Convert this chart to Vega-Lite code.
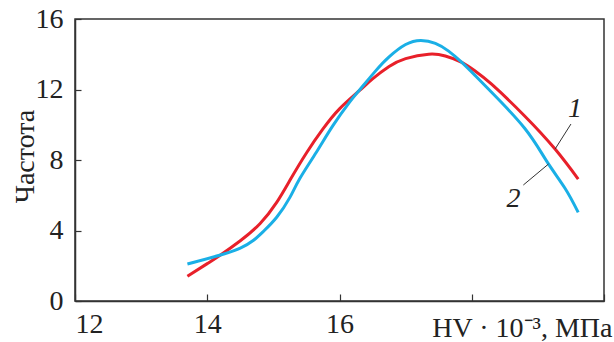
{
  "$schema": "https://vega.github.io/schema/vega-lite/v6.json",
  "width": 529,
  "height": 282,
  "autosize": {"type": "none"},
  "padding": {"left": 75, "top": 19, "right": 10, "bottom": 41},
  "background": "white",
  "config": {
    "view": {"stroke": "#333", "strokeWidth": 1.5},
    "font": "Liberation Serif"
  },
  "datasets": {
    "curves": [
      {"hv": 13.70, "freq": 1.40, "curve": "1"},
      {"hv": 14.00, "freq": 2.12, "curve": "1"},
      {"hv": 14.20, "freq": 2.61, "curve": "1"},
      {"hv": 14.50, "freq": 3.42, "curve": "1"},
      {"hv": 14.80, "freq": 4.40, "curve": "1"},
      {"hv": 15.05, "freq": 5.60, "curve": "1"},
      {"hv": 15.25, "freq": 6.85, "curve": "1"},
      {"hv": 15.50, "freq": 8.40, "curve": "1"},
      {"hv": 15.75, "freq": 9.76, "curve": "1"},
      {"hv": 16.00, "freq": 10.90, "curve": "1"},
      {"hv": 16.30, "freq": 11.93, "curve": "1"},
      {"hv": 16.50, "freq": 12.60, "curve": "1"},
      {"hv": 16.75, "freq": 13.30, "curve": "1"},
      {"hv": 17.00, "freq": 13.75, "curve": "1"},
      {"hv": 17.35, "freq": 14.00, "curve": "1"},
      {"hv": 17.60, "freq": 13.90, "curve": "1"},
      {"hv": 17.85, "freq": 13.54, "curve": "1"},
      {"hv": 18.05, "freq": 13.05, "curve": "1"},
      {"hv": 18.30, "freq": 12.30, "curve": "1"},
      {"hv": 18.80, "freq": 10.50, "curve": "1"},
      {"hv": 19.26, "freq": 8.62, "curve": "1"},
      {"hv": 19.61, "freq": 6.92, "curve": "1"},
      {"hv": 13.70, "freq": 2.10, "curve": "2"},
      {"hv": 14.20, "freq": 2.61, "curve": "2"},
      {"hv": 14.50, "freq": 3.00, "curve": "2"},
      {"hv": 14.70, "freq": 3.45, "curve": "2"},
      {"hv": 14.85, "freq": 3.95, "curve": "2"},
      {"hv": 15.05, "freq": 4.75, "curve": "2"},
      {"hv": 15.25, "freq": 5.88, "curve": "2"},
      {"hv": 15.40, "freq": 6.95, "curve": "2"},
      {"hv": 15.65, "freq": 8.44, "curve": "2"},
      {"hv": 15.90, "freq": 9.95, "curve": "2"},
      {"hv": 16.15, "freq": 11.27, "curve": "2"},
      {"hv": 16.30, "freq": 11.96, "curve": "2"},
      {"hv": 16.55, "freq": 13.07, "curve": "2"},
      {"hv": 16.75, "freq": 13.85, "curve": "2"},
      {"hv": 17.00, "freq": 14.55, "curve": "2"},
      {"hv": 17.23, "freq": 14.78, "curve": "2"},
      {"hv": 17.45, "freq": 14.62, "curve": "2"},
      {"hv": 17.65, "freq": 14.18, "curve": "2"},
      {"hv": 17.85, "freq": 13.54, "curve": "2"},
      {"hv": 18.05, "freq": 12.80, "curve": "2"},
      {"hv": 18.30, "freq": 11.84, "curve": "2"},
      {"hv": 18.80, "freq": 9.80, "curve": "2"},
      {"hv": 19.13, "freq": 7.95, "curve": "2"},
      {"hv": 19.41, "freq": 6.40, "curve": "2"},
      {"hv": 19.61, "freq": 5.03, "curve": "2"}
    ],
    "leaders": [
      {"x1": 19.50, "y1": 10.04, "x2": 19.26, "y2": 8.62},
      {"x1": 18.78, "y1": 6.58, "x2": 19.16, "y2": 7.77}
    ],
    "labels": [
      {"x": 19.56, "y": 10.9, "text": "1"},
      {"x": 18.63, "y": 5.79, "text": "2"}
    ]
  },
  "layer": [
    {
      "data": {"name": "curves"},
      "mark": {"type": "line", "interpolate": "natural", "strokeWidth": 3},
      "encoding": {
        "x": {
          "field": "hv", "type": "quantitative",
          "scale": {"domain": [12, 20], "nice": false, "zero": false},
          "axis": {
            "values": [12, 14, 16, 18, 20],
            "format": "d",
            "labelExpr": "datum.value <= 16 ? datum.label : ''",
            "grid": false,
            "domainColor": "#333", "domainWidth": 1.5,
            "tickColor": "#333", "tickWidth": 1.2, "tickSize": -7,
            "labelPadding": 16, "labelFontSize": 28, "labelColor": "#222",
            "labelFont": "Liberation Serif",
            "title": "HV · 10⁻³, МПа",
            "titleFont": "Liberation Serif", "titleFontSize": 28,
            "titleFontWeight": "normal", "titleColor": "#222",
            "titleAnchor": "end", "titleAlign": "right",
            "titleX": 537, "titleY": 35, "titleBaseline": "alphabetic"
          }
        },
        "y": {
          "field": "freq", "type": "quantitative",
          "scale": {"domain": [0, 16], "nice": false},
          "axis": {
            "values": [0, 4, 8, 12, 16],
            "grid": false,
            "domainColor": "#333", "domainWidth": 1.5,
            "tickColor": "#333", "tickWidth": 1.2, "tickSize": -6,
            "labelPadding": 18, "labelFontSize": 28, "labelColor": "#222",
            "labelFont": "Liberation Serif",
            "title": "Частота",
            "titleFont": "Liberation Serif", "titleFontSize": 28,
            "titleFontWeight": "normal", "titleColor": "#222",
            "titleX": -50, "titleY": 137, "titleBaseline": "middle", "titleAlign": "center"
          }
        },
        "color": {
          "field": "curve", "type": "nominal",
          "scale": {"domain": ["1", "2"], "range": ["#e8202a", "#1aafe6"]},
          "legend": null
        }
      }
    },
    {
      "data": {"name": "leaders"},
      "mark": {"type": "rule", "color": "#333", "strokeWidth": 1},
      "encoding": {
        "x": {"field": "x1", "type": "quantitative"},
        "y": {"field": "y1", "type": "quantitative"},
        "x2": {"field": "x2"},
        "y2": {"field": "y2"}
      }
    },
    {
      "data": {"name": "labels"},
      "mark": {"type": "text", "font": "Liberation Serif", "fontStyle": "italic", "fontSize": 28, "color": "#222", "baseline": "middle", "align": "center"},
      "encoding": {
        "x": {"field": "x", "type": "quantitative"},
        "y": {"field": "y", "type": "quantitative"},
        "text": {"field": "text"}
      }
    }
  ]
}
